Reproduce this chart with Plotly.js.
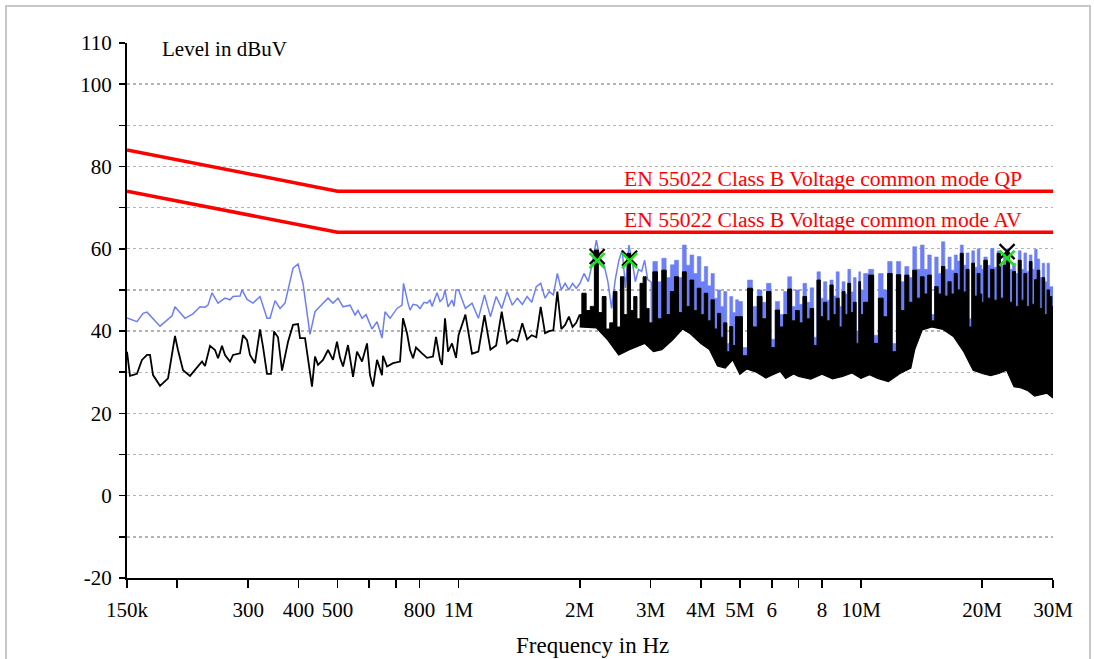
<!DOCTYPE html>
<html>
<head>
<meta charset="utf-8">
<script src="https://cdn.plot.ly/plotly-3.0.1.min.js"></script>
<style>
  html, body { margin: 0; padding: 0; background: #fff; }
  #wrap { position: relative; width: 1094px; height: 659px; overflow: hidden; }
  #chart { position: absolute; left: 0; top: 0; width: 1094px; height: 659px; }
  #frame { position: absolute; left: 5px; top: 5px; width: 1082px; height: 720px;
           border: 2px solid #c8c8c8; pointer-events: none; }
</style>
</head>
<body>
<div id="wrap"><div id="chart"></div><div id="frame"></div></div>
<script>
// ---------- DATA (frequencies in MHz, levels in dBuV) ----------
// Peak (blue) trace, 150 kHz .. 1 MHz
const peakLowF = [0.150,0.1588,0.1644,0.1682,0.1812,0.1941,0.1974,0.2090,0.2188,0.2278,0.2344,0.2384,0.2440,0.2525,0.2628,0.2704,0.2751,0.2864,0.2897,0.2981,0.3084,0.3211,0.3342,0.3400,0.3499,0.3600,0.3704,0.3812,0.3878,0.3991,0.4106,0.4274,0.4398,0.4578,0.4738,0.4875,0.5017,0.5163,0.5374,0.5530,0.5625,0.5756,0.5889,0.6095,0.6272,0.6453,0.6565,0.6756,0.7032,0.7236,0.7298,0.7488,0.7575,0.7706,0.7884,0.8021,0.8207,0.8349,0.8493,0.8591,0.8840,0.8993,0.9149,0.9254,0.9415,0.9633,0.9743,0.9856];
const peakLowL = [43.2,42.3,44.3,44.6,41.2,43.7,45.9,43.1,44.2,45.9,45.8,46.3,49.3,46.8,48.0,47.6,48.4,48.5,50.0,47.7,46.8,48.4,43.1,43.1,47.4,45.5,46.8,52.4,55.3,56.3,51.6,39.2,44.7,46.5,48.0,46.8,48.0,45.9,46.3,43.9,45.0,43.1,44.0,40.5,42.3,38.3,44.7,43.1,45.5,46.3,51.6,46.8,45.1,46.5,46.3,45.5,47.0,46.8,47.5,46.0,49.3,47.2,48.0,50.0,45.9,47.5,46.0,50.0];

// Average (black) trace, 150 kHz .. 1 MHz
const avgLowF = [0.150,0.1526,0.1588,0.1634,0.1682,0.1711,0.1741,0.1812,0.1897,0.1974,0.2008,0.2067,0.2151,0.2239,0.2304,0.2344,0.2412,0.2482,0.2525,0.2583,0.2628,0.2704,0.2751,0.2864,0.2913,0.2981,0.3032,0.3120,0.3211,0.3266,0.3342,0.3419,0.3479,0.3559,0.3642,0.3769,0.3878,0.3991,0.4037,0.4154,0.4274,0.4323,0.4398,0.4475,0.4604,0.4738,0.4875,0.4988,0.5075,0.5163,0.5312,0.5467,0.5593,0.5756,0.5923,0.6025,0.6129,0.6272,0.6453,0.6490,0.6641,0.6873,0.7154,0.7277,0.7446,0.7575,0.7706,0.7839,0.8113,0.8349,0.8640,0.8790,0.8993,0.9097,0.9254,0.9415,0.9633,0.9856];
const avgLowL = [35.0,29.1,29.6,33.0,34.2,34.2,29.3,26.7,28.5,38.8,35.4,30.5,29.1,31.2,32.6,31.5,36.4,35.4,33.4,36.4,34.2,32.6,34.2,34.6,39.0,37.8,34.2,32.2,40.4,36.2,29.6,29.6,39.9,38.5,30.4,37.4,41.5,41.7,38.3,38.3,29.3,26.5,33.8,31.8,33.0,35.4,33.0,37.4,33.5,31.4,36.6,28.9,35.0,32.6,37.0,29.3,26.5,33.0,29.3,34.0,31.4,32.2,32.6,43.1,39.5,35.4,33.4,36.0,34.6,33.5,33.8,38.6,33.0,31.8,43.1,35.0,37.0,33.5];

// 1 MHz .. 30 MHz sweep (shared by both detectors)
const denseF = [1.00,1.04,1.08,1.12,1.16,1.20,1.24,1.28,1.32,1.36,1.40,1.44,1.48,1.52,1.56,1.60,1.64,1.68,1.72,1.76,1.80,1.84,1.88,1.92,1.96,
  2.00,2.05,2.10,2.15,2.20,2.25,2.30,2.35,2.40,2.45,2.50,2.55,2.60,2.65,2.70,2.75,2.80,2.85,2.90,2.95,
  3.00,3.08,3.16,3.24,3.32,3.40,3.48,3.56,3.64,3.72,3.80,3.88,3.96,4.04,4.12,4.20,4.28,4.36,4.44,4.52,4.60,4.68,4.76,4.84,4.92,
  5.00,5.15,5.30,5.45,5.60,5.75,5.90,6.05,6.20,6.35,6.50,6.65,6.80,6.95,7.10,7.25,7.40,7.55,7.70,7.85,8.00,8.15,8.30,8.45,8.60,8.75,8.90,9.05,9.20,9.35,9.50,9.65,9.80,9.95,
  10.0,10.3,10.6,10.9,11.2,11.5,11.8,12.1,12.4,12.7,13.0,13.3,13.6,13.9,14.2,14.5,14.8,15.1,15.4,15.7,16.0,16.3,16.6,16.9,17.2,17.5,17.8,18.1,18.4,18.7,19.0,19.3,19.6,19.9,
  20.0,20.4,20.8,21.2,21.6,22.0,22.4,22.8,23.2,23.6,24.0,24.4,24.8,25.2,25.6,26.0,26.4,26.8,27.2,27.6,28.0,28.4,28.8,29.2,29.6,30.0];
const peakDense = [50.0,45.5,46.8,43.1,48.8,43.5,48.4,45.5,49.6,46.3,48.0,46.5,48.4,47.0,50.8,51.6,48.0,49.6,48.8,54.0,50.0,51.6,50.0,51.6,50.4,
  51.5,54.0,52.0,56.5,62.1,57.2,56.0,52.0,45.5,52.4,57.0,59.7,50.5,60.9,57.0,52.0,55.0,54.5,57.2,52.5,
  52.0,56.9,52.0,57.7,53.0,56.1,57.2,53.0,60.9,56.0,58.5,54.0,58.1,52.0,55.7,51.0,54.0,48.0,50.0,46.0,49.6,37.0,48.4,44.5,47.6,
  47.2,36.0,52.4,46.0,50.0,47.0,51.6,38.0,47.2,44.0,49.6,53.2,46.0,50.0,46.5,51.6,47.0,50.5,38.5,54.4,48.0,52.0,47.5,52.4,48.5,54.4,46.0,52.0,49.0,55.0,49.5,53.0,40.0,54.4,
  50.0,54.0,55.0,39.0,54.0,50.0,56.9,37.0,56.9,52.0,55.7,53.0,60.5,55.0,60.9,55.0,58.5,44.0,58.0,54.0,61.7,55.0,58.0,54.8,58.5,57.0,60.9,56.0,59.0,43.0,59.5,55.5,60.0,56.0,
  55.0,58.0,56.0,60.1,55.5,59.5,56.0,59.0,60.0,55.0,56.5,54.0,59.5,55.0,59.0,54.5,58.5,55.0,59.9,57.5,53.0,56.5,52.0,56.5,50.8,50.8];
const avgDense = [39.0,44.0,34.5,35.0,43.9,35.5,36.5,44.7,37.0,38.0,37.5,41.9,38.0,39.0,38.5,45.9,39.5,40.0,40.2,49.6,40.5,41.5,43.5,41.0,42.0,
  44.0,49.2,45.0,46.0,59.7,44.5,48.4,40.5,42.0,49.6,41.0,53.2,44.0,58.9,45.0,48.4,43.0,51.6,53.2,45.5,
  42.0,54.4,43.0,54.8,44.0,49.6,53.2,44.5,54.4,46.0,52.4,45.0,50.4,44.0,49.2,42.5,47.6,40.5,44.3,38.5,42.0,35.0,41.1,36.5,43.5,
  43.5,34.0,50.4,41.0,48.4,43.0,49.6,36.0,45.1,41.0,44.0,50.2,42.5,45.0,42.0,48.4,43.0,45.5,36.5,52.4,43.5,47.0,42.5,51.2,44.0,48.0,41.0,49.6,44.0,51.6,44.5,47.0,37.0,52.0,
  44.0,47.0,53.6,37.0,48.0,43.5,54.0,35.0,53.7,45.0,53.6,47.0,54.8,48.0,53.2,49.0,53.6,42.5,50.8,49.0,55.7,48.5,52.0,49.0,54.0,50.0,58.9,49.5,55.0,41.0,56.5,48.5,54.0,49.0,
  47.0,57.2,48.0,55.0,47.5,58.9,48.0,56.0,59.0,47.0,54.5,46.0,57.2,47.5,54.0,46.0,56.9,46.5,52.5,54.8,45.5,53.0,44.0,50.0,48.4,46.0];
// lowest excursion of the average trace above 2 MHz
const avgFloorF = [2.0,2.2,2.35,2.5,2.65,2.9,3.05,3.2,3.4,3.6,3.75,4.0,4.2,4.4,4.6,4.8,5.0,5.2,5.5,5.8,6.0,6.3,6.5,6.8,7.0,7.5,8.0,8.5,9.0,9.5,10,10.5,11,11.7,12.5,13.3,13.6,14.2,15,16,17,18,19,20,21,22,23,24,25,26,27,28,29,30];
const avgFloorL = [41.0,40.8,37.8,34.2,35.4,37.0,35.0,35.5,37.8,40.5,39.5,37.0,35.5,31.5,31.0,33.0,29.5,30.8,30.0,28.6,29.3,30.2,28.5,29.6,29.0,28.3,29.5,28.4,29.0,29.8,28.5,29.4,28.5,27.7,29.7,31.0,35.5,40.3,41.0,40.4,38.6,35.0,30.5,29.7,29.2,29.7,30.5,26.5,26.2,25.5,24.2,24.5,24.9,23.7];

// Limit lines
const limitF = [0.15, 0.5, 30];
const limitQP = [84, 74, 74];
const limitAV = [74, 64, 64];

// Final measurement markers
const finalF = [2.21, 2.66, 23.07];
const finalQP = [58.1, 57.7, 59.3];
const finalAV = [57.1, 57.1, 57.7];

// Axis ticks
const xTickVals = [0.15,0.2,0.3,0.4,0.5,0.6,0.7,0.8,1,2,3,4,5,6,7,8,10,20,30];
const xTickText = ['150k','','300','400','500','','','800','1M','2M','3M','4M','5M','6','','8','10M','20M','30M'];
const yTickVals = [-20,-10,0,10,20,30,40,50,60,70,80,90,100,110];
const yTickText = ['-20','','0','','20','','40','','60','','80','','100','110'];

// ---------- CHART ----------
const BLUE = '#6d7ff6';
const FONT = 'Liberation Serif, Times New Roman, serif';
const i2 = denseF.findIndex(f => f >= 2);
const i3 = denseF.findIndex(f => f >= 3);
const rev = a => a.slice().reverse();

const traces = [
  { // peak band above the average band (dense region)
    x: denseF.slice(i3).concat(rev(denseF.slice(i3))),
    y: peakDense.slice(i3).concat(rev(avgDense.slice(i3))),
    mode: 'lines', fill: 'toself', fillcolor: BLUE, line: {width: 0.6, color: BLUE, shape: 'hvh'},
    hoverinfo: 'skip', showlegend: false
  },
  { // peak trace, 150 kHz .. 3 MHz
    x: peakLowF.concat(denseF.slice(0, i3 + 1)), y: peakLowL.concat(peakDense.slice(0, i3 + 1)),
    mode: 'lines', line: {color: BLUE, width: 1.5}, showlegend: false
  },
  { // lower edge of the average band
    x: avgFloorF, y: avgFloorL,
    mode: 'lines', line: {color: '#000', width: 1.2}, showlegend: false
  },
  { // upper edge of the average band, filled down to the lower edge
    x: denseF.slice(i2), y: avgDense.slice(i2),
    mode: 'lines', fill: 'tonexty', fillcolor: '#000', line: {color: '#000', width: 1, shape: 'hvh'},
    showlegend: false
  },
  { // average trace, 150 kHz .. 2 MHz
    x: avgLowF.concat(denseF.slice(0, i2 + 1)), y: avgLowL.concat(avgDense.slice(0, i2 + 1)),
    mode: 'lines', line: {color: '#000', width: 1.8}, showlegend: false
  },
  { x: limitF, y: limitQP, mode: 'lines', line: {color: '#ff0000', width: 3.5}, showlegend: false },
  { x: limitF, y: limitAV, mode: 'lines', line: {color: '#ff0000', width: 3.5}, showlegend: false },
  { x: finalF, y: finalQP, mode: 'markers', showlegend: false,
    marker: {symbol: 'x-thin', size: 15, line: {color: '#000', width: 2.2}} },
  { x: finalF, y: finalAV, mode: 'markers', showlegend: false,
    marker: {symbol: 'x-thin', size: 15, line: {color: '#1fe01f', width: 2.6}} }
];

const xr = [Math.log10(0.15), Math.log10(30)];
const layout = {
  width: 1094, height: 659,
  margin: {l: 127, r: 41, t: 43, b: 81},
  paper_bgcolor: '#fff', plot_bgcolor: '#fff',
  font: {family: FONT, size: 21, color: '#000'},
  showlegend: false,
  xaxis: {
    type: 'log', range: xr, tickmode: 'array', tickvals: xTickVals, ticktext: xTickText,
    ticks: 'outside', ticklen: 8, tickwidth: 1.6, tickcolor: '#000',
    showline: true, linecolor: '#000', linewidth: 2, showgrid: false, zeroline: false,
    tickfont: {family: FONT, size: 21, color: '#000'}, ticklabelstandoff: 4
  },
  yaxis: {
    range: [-20, 110], tickmode: 'array', tickvals: yTickVals, ticktext: yTickText,
    ticks: 'outside', ticklen: 6, tickwidth: 1.6, tickcolor: '#000',
    showline: true, linecolor: '#000', linewidth: 2, zeroline: false,
    showgrid: true, gridcolor: '#b4b4b4', griddash: 'dot', gridwidth: 1.4,
    tickfont: {family: FONT, size: 21, color: '#000'}, ticklabelstandoff: 3
  },
  xaxis2: {
    type: 'log', range: xr, overlaying: 'x', anchor: 'y', side: 'bottom',
    tickmode: 'array', tickvals: xTickVals, ticks: 'inside', ticklen: 6, tickwidth: 1.6,
    tickcolor: '#000', showticklabels: false, showgrid: false, showline: false, zeroline: false
  },
  yaxis2: {
    range: [-20, 110], overlaying: 'y', anchor: 'x', side: 'left',
    tickmode: 'array', tickvals: yTickVals, ticks: 'inside', ticklen: 6, tickwidth: 1.6,
    tickcolor: '#000', showticklabels: false, showgrid: false, showline: false, zeroline: false
  },
  annotations: [
    {xref: 'paper', yref: 'paper', x: 0.0356, y: 1, xanchor: 'left', yanchor: 'middle', yshift: -6,
     text: 'Level in dBuV', showarrow: false, font: {family: FONT, size: 21, color: '#000'}},
    {xref: 'paper', yref: 'paper', x: 0.503, y: -0.127, xanchor: 'center', yanchor: 'middle',
     text: 'Frequency in Hz', showarrow: false, font: {family: FONT, size: 23, color: '#000'}},
    {xref: 'x', yref: 'y', x: Math.log10(25.4), y: limitQP[2], xanchor: 'right', yanchor: 'bottom', yshift: -2,
     text: 'EN 55022 Class B Voltage common mode QP', showarrow: false,
     font: {family: FONT, size: 21.6, color: '#ff0000'}},
    {xref: 'x', yref: 'y', x: Math.log10(25.4), y: limitAV[2], xanchor: 'right', yanchor: 'bottom', yshift: -2,
     text: 'EN 55022 Class B Voltage common mode AV', showarrow: false,
     font: {family: FONT, size: 21.6, color: '#ff0000'}}
  ]
};

Plotly.newPlot('chart', traces, layout, {displayModeBar: false, staticPlot: true});
</script>
</body>
</html>
